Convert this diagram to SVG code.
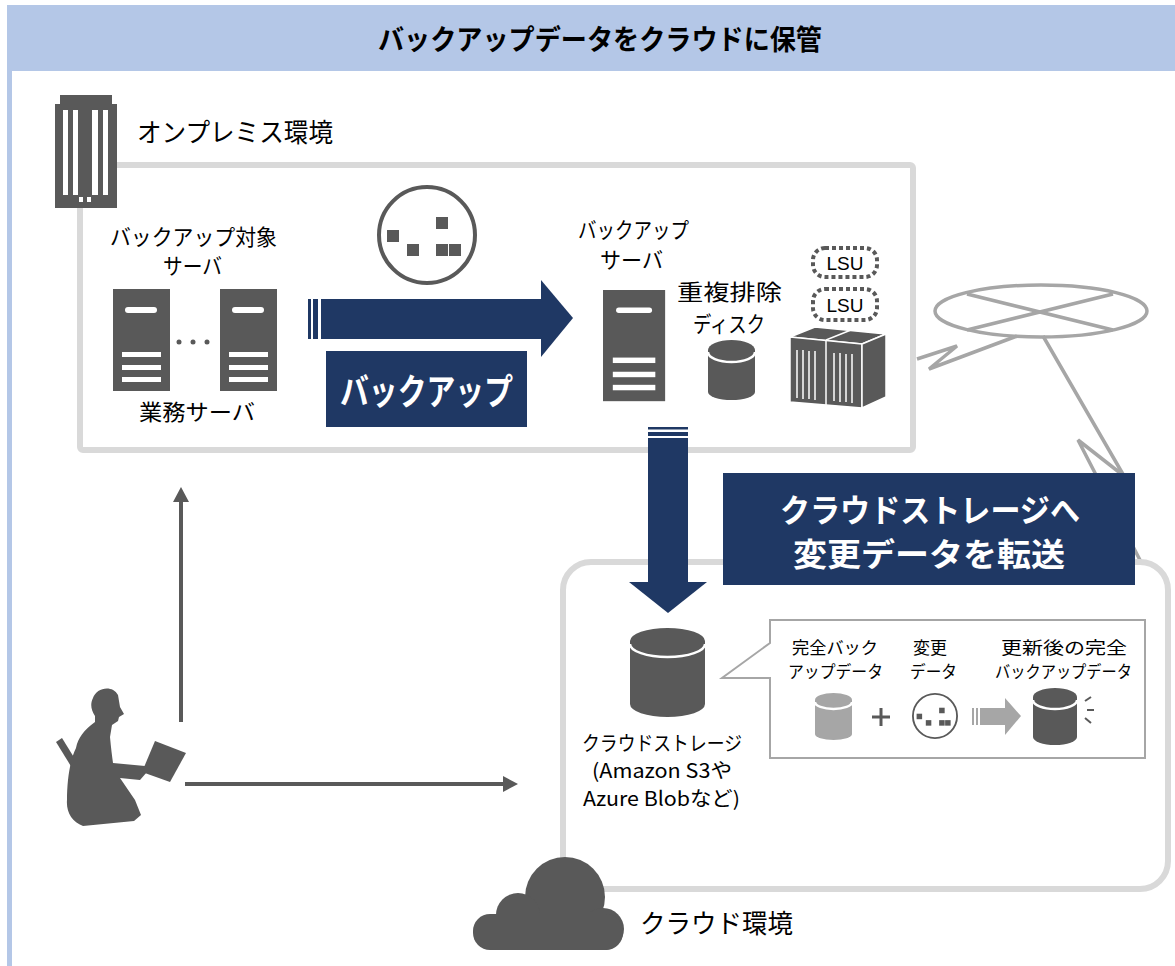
<svg xmlns="http://www.w3.org/2000/svg" width="1175" height="966" viewBox="0 0 1175 966">
  <style>
    .jp { font-family: "Noto Sans CJK JP", "Noto Sans", sans-serif; fill: #000; }
    .lbl { font-size: 22px; }
    .lbl2 { font-size: 20px; }
    .small { font-size: 17px; }
    .env { font-size: 26px; }
    .boldw { font-weight: bold; fill: #fff; }
    .dark { fill: #595959; }
    .frame { fill: none; stroke: #D9D9D9; stroke-width: 6; }
    .net { fill: none; stroke: #A6A6A6; stroke-width: 3.5; stroke-linejoin: miter; }
    .navy { fill: #1F3864; }
    .ring { fill: none; stroke: #fff; stroke-width: 2.5; }
    .lsu { fill: #fff; stroke: #595959; stroke-width: 4; stroke-dasharray: 4 3; }
    .lsut { font-family: "Liberation Sans", Arial, sans-serif; font-size: 19px; fill: #000; }
    .flow { stroke: #595959; stroke-width: 4; fill: none; }
  </style>
  <defs>
    <!-- changed-data icon: circle with scattered blocks, centred on 0,0 -->
    <g id="diff-icon">
      <circle cx="0" cy="0" r="48" fill="#fff" stroke="#595959" stroke-width="4"/>
      <rect x="-40" y="-5" width="12" height="12" fill="#595959"/>
      <rect x="-20" y="9" width="12" height="12" fill="#595959"/>
      <rect x="9" y="-18" width="12" height="12" fill="#595959"/>
      <rect x="9" y="9" width="12" height="12" fill="#595959"/>
      <rect x="22" y="9" width="12" height="12" fill="#595959"/>
    </g>
    <!-- tower server -->
    <g id="server">
      <rect x="0" y="0" width="57" height="102" fill="#595959"/>
      <rect x="12" y="18" width="32" height="6" rx="3" fill="#fff"/>
      <rect x="9" y="63" width="39" height="5" fill="#fff"/>
      <rect x="9" y="76" width="39" height="5" fill="#fff"/>
      <rect x="9" y="88" width="39" height="5" fill="#fff"/>
    </g>
  </defs>

  <!-- header band and left rule -->
  <rect x="7" y="5" width="1168" height="66" fill="#B4C7E7"/>
  <rect x="7" y="5" width="5" height="961" fill="#B4C7E7"/>
  <text class="jp" x="378" y="50" font-size="28" font-weight="bold" textLength="444" lengthAdjust="spacingAndGlyphs">バックアップデータをクラウドに保管</text>

  <!-- network links (behind frames and labels) -->
  <g id="network">
    <ellipse cx="1041" cy="311" rx="106" ry="26" class="net"/>
    <line x1="967" y1="294" x2="1113" y2="330" class="net"/>
    <line x1="1113" y1="294" x2="967" y2="330" class="net"/>
    <polyline points="917,359 957,346 929,369 1017,336" class="net"/>
    <polyline points="1043,336 1124,476 1078,440 1141,562" class="net"/>
  </g>

  <!-- on-premises environment -->
  <g id="onprem">
    <rect x="80" y="165" width="833" height="285" rx="3" class="frame"/>
    <g id="building">
      <rect x="60" y="95" width="52" height="10" class="dark"/>
      <rect x="55" y="104" width="62" height="104" class="dark"/>
      <rect x="63" y="110" width="5" height="85" fill="#fff"/>
      <rect x="73" y="110" width="5" height="85" fill="#fff"/>
      <rect x="92" y="110" width="6" height="85" fill="#fff"/>
      <rect x="103" y="110" width="5" height="85" fill="#fff"/>
      <rect x="79" y="197" width="4" height="5" fill="#fff"/>
      <rect x="87" y="197" width="4" height="5" fill="#fff"/>
    </g>
    <text class="jp env" x="137" y="142" textLength="196" lengthAdjust="spacingAndGlyphs">オンプレミス環境</text>
  </g>

  <!-- business servers -->
  <g id="business-servers">
    <text class="jp lbl" x="110" y="245" textLength="167" lengthAdjust="spacingAndGlyphs">バックアップ対象</text>
    <text class="jp lbl" x="163" y="274" textLength="59" lengthAdjust="spacingAndGlyphs">サーバ</text>
    <use href="#server" x="113" y="289"/>
    <use href="#server" x="220" y="289"/>
    <circle cx="179" cy="342" r="2.5" class="dark"/>
    <circle cx="193" cy="342" r="2.5" class="dark"/>
    <circle cx="207" cy="342" r="2.5" class="dark"/>
    <text class="jp lbl" x="139" y="420" textLength="116" lengthAdjust="spacingAndGlyphs">業務サーバ</text>
  </g>

  <!-- changed data -->
  <g id="change-data">
    <use href="#diff-icon" transform="translate(427 235)"/>
  </g>

  <!-- backup server -->
  <g id="backup-server">
    <text class="jp lbl" x="578" y="238" textLength="111" lengthAdjust="spacingAndGlyphs">バックアップ</text>
    <text class="jp lbl" x="600" y="268" textLength="63" lengthAdjust="spacingAndGlyphs">サーバ</text>
    <g transform="translate(603 290) scale(1.09 1.09)">
      <rect x="0" y="0" width="57" height="102" fill="#595959"/>
      <rect x="12" y="16" width="33" height="5" rx="2.5" fill="#fff"/>
      <rect x="9" y="62" width="39" height="5" fill="#fff"/>
      <rect x="9" y="75" width="39" height="5" fill="#fff"/>
      <rect x="9" y="87" width="39" height="5" fill="#fff"/>
    </g>
  </g>

  <!-- deduplication disk -->
  <g id="dedup-disk">
    <text class="jp lbl" x="677" y="300" textLength="105" lengthAdjust="spacingAndGlyphs">重複排除</text>
    <text class="jp lbl" x="693" y="332" textLength="72" lengthAdjust="spacingAndGlyphs">ディスク</text>
    <path d="M708,350 A23.5,10 0 0 1 755,350 L755,392 A23.5,8 0 0 1 708,392 Z" class="dark"/>
    <path d="M708,352 A23.5,10 0 0 0 755,352" class="ring"/>
  </g>

  <!-- storage unit with LSUs -->
  <g id="storage">
    <rect x="813" y="248" width="64" height="29" rx="12" class="lsu"/>
    <text class="lsut" x="845" y="270" text-anchor="middle">LSU</text>
    <rect x="813" y="289" width="64" height="31" rx="12" class="lsu"/>
    <text class="lsut" x="845" y="312" text-anchor="middle">LSU</text>
    <g stroke="#fff" stroke-width="1.5" stroke-linejoin="round">
      <polygon points="790,337 862,344 886,334 815,327" fill="#595959"/>
      <polygon points="790,337 862,344 862,408 790,402" fill="#595959"/>
      <polygon points="862,344 886,334 886,397 862,408" fill="#595959"/>
      <line x1="826" y1="340" x2="851" y2="330"/>
      <line x1="826" y1="340" x2="826" y2="405"/>
    </g>
    <g stroke="#fff" stroke-width="1.5">
      <line x1="797" y1="350" x2="797" y2="398"/>
      <line x1="803" y1="350" x2="803" y2="399"/>
      <line x1="809" y1="351" x2="809" y2="399"/>
      <line x1="815" y1="351" x2="815" y2="400"/>
      <line x1="834" y1="353" x2="834" y2="401"/>
      <line x1="840" y1="353" x2="840" y2="402"/>
      <line x1="846" y1="354" x2="846" y2="402"/>
      <line x1="852" y1="354" x2="852" y2="403"/>
    </g>
  </g>

  <!-- cloud environment -->
  <g id="cloud-env">
    <rect x="563" y="562" width="605" height="327" rx="28" class="frame"/>
    <g id="cloud-icon" class="dark">
      <circle cx="565" cy="897" r="40"/>
      <circle cx="518" cy="915" r="22"/>
      <circle cx="603" cy="929" r="21"/>
      <rect x="473" y="914" width="150" height="36" rx="17"/>
    </g>
    <text class="jp env" x="640" y="933" textLength="153" lengthAdjust="spacingAndGlyphs">クラウド環境</text>
  </g>

  <!-- cloud storage -->
  <g id="cloud-storage">
    <path d="M630,641 A37.5,13 0 0 1 705,641 L705,704 A37.5,13 0 0 1 630,704 Z" class="dark"/>
    <path d="M630,644 A37.5,13 0 0 0 705,644" class="ring"/>
    <text class="jp lbl2" x="582" y="751" textLength="160" lengthAdjust="spacingAndGlyphs">クラウドストレージ</text>
    <text class="jp lbl2" x="592" y="778" textLength="140" lengthAdjust="spacingAndGlyphs">(Amazon S3や</text>
    <text class="jp lbl2" x="583" y="806" textLength="157" lengthAdjust="spacingAndGlyphs">Azure Blobなど)</text>
  </g>

  <!-- callout: full backup + changes -> updated backup -->
  <g id="callout">
    <path d="M770,620 H1145 V758 H770 V678 H722 L770,643 Z" fill="#fff" stroke="#A6A6A6" stroke-width="2"/>
    <text class="jp small" x="792" y="654" textLength="86" lengthAdjust="spacingAndGlyphs">完全バック</text>
    <text class="jp small" x="788" y="678" textLength="95" lengthAdjust="spacingAndGlyphs">アップデータ</text>
    <text class="jp small" x="913" y="654" textLength="34" lengthAdjust="spacingAndGlyphs">変更</text>
    <text class="jp small" x="910" y="678" textLength="47" lengthAdjust="spacingAndGlyphs">データ</text>
    <text class="jp small" x="1001" y="654" textLength="126" lengthAdjust="spacingAndGlyphs">更新後の完全</text>
    <text class="jp small" x="995" y="678" textLength="137" lengthAdjust="spacingAndGlyphs">バックアップデータ</text>
    <path d="M815,700 A18.5,7 0 0 1 852,700 L852,734 A18.5,6 0 0 1 815,734 Z" fill="#A6A6A6"/>
    <path d="M815,702 A18.5,7 0 0 0 852,702" class="ring" stroke-width="2"/>
    <line x1="872" y1="717" x2="890" y2="717" stroke="#595959" stroke-width="3"/>
    <line x1="881" y1="708" x2="881" y2="726" stroke="#595959" stroke-width="3"/>
    <use href="#diff-icon" transform="translate(935 716) scale(0.46)"/>
    <rect x="972" y="708" width="2" height="17" fill="#A6A6A6"/>
    <rect x="976" y="708" width="2" height="17" fill="#A6A6A6"/>
    <rect x="980" y="708" width="25" height="17" fill="#A6A6A6"/>
    <polygon points="1005,698 1005,735 1021,716" fill="#A6A6A6"/>
    <path d="M1033,697 A22,9 0 0 1 1077,697 L1077,737 A22,8 0 0 1 1033,737 Z" class="dark"/>
    <path d="M1033,700 A22,9 0 0 0 1077,700" class="ring" stroke-width="2"/>
    <g stroke="#595959" stroke-width="2">
      <line x1="1085" y1="701" x2="1091" y2="697"/>
      <line x1="1087" y1="710" x2="1094" y2="710"/>
      <line x1="1085" y1="718" x2="1091" y2="723"/>
    </g>
  </g>

  <!-- administrator -->
  <g id="admin" class="dark">
    <polygon points="56,742 62,738 83,772 77,776"/>
    <path d="M93,698 C96,688 112,684 118,695 L120,707 L124,714 L119,717 L118,721 L112,725 L110,737 C111,748 112,756 113,763 L145,766 L147,772 L140,780 L120,778 L135,800 L141,815 L134,821 L83,826 C72,822 66,812 67,800 C67,780 70,760 76,748 C78,738 84,730 95,722 L95,716 C91,710 90,704 93,698 Z"/>
    <polygon points="155,741 186,753 170,782 142,772"/>
  </g>

  <!-- connectors -->
  <g id="connectors">
    <!-- backup flow: business servers to backup server -->
    <g class="navy">
      <rect x="308" y="299" width="3" height="40"/>
      <rect x="313" y="299" width="5" height="40"/>
      <rect x="321" y="299" width="221" height="40"/>
      <polygon points="541,280 541,357 573,318"/>
    </g>
    <!-- transfer flow: backup server to cloud storage -->
    <g class="navy">
      <rect x="648" y="427" width="40" height="2.5"/>
      <rect x="648" y="432" width="40" height="4"/>
      <rect x="648" y="438" width="40" height="145"/>
      <polygon points="629,582 707,582 668,613"/>
    </g>
    <!-- admin access arrows -->
    <line x1="181" y1="722" x2="181" y2="500" class="flow"/>
    <polygon points="173,502 189,502 181,487" fill="#595959"/>
    <line x1="185" y1="784" x2="505" y2="784" class="flow"/>
    <polygon points="503,776 503,792 518,784" fill="#595959"/>
  </g>

  <!-- flow labels -->
  <g id="label-backup">
    <rect x="326" y="351" width="201" height="76" class="navy"/>
    <text class="jp boldw" x="340" y="405" font-size="36" textLength="173" lengthAdjust="spacingAndGlyphs">バックアップ</text>
  </g>
  <g id="label-transfer">
    <rect x="723" y="473" width="412" height="112" class="navy"/>
    <text class="jp boldw" x="780" y="522" font-size="32" textLength="300" lengthAdjust="spacingAndGlyphs">クラウドストレージへ</text>
    <text class="jp boldw" x="793" y="566" font-size="32" textLength="272" lengthAdjust="spacingAndGlyphs">変更データを転送</text>
  </g>
</svg>
